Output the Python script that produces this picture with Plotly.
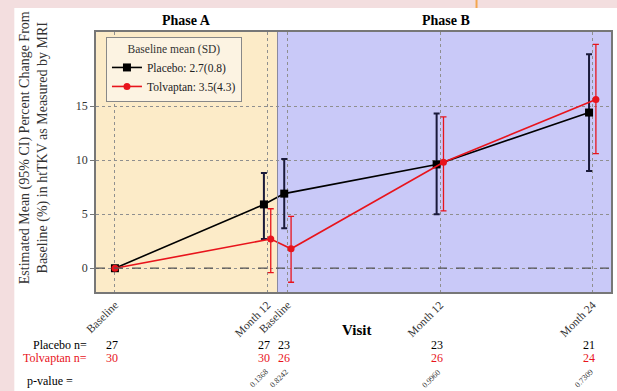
import plotly.graph_objects as go

# ---------------- data ----------------
visit_labels = ["Baseline", "Month 12", "Baseline", "Month 12", "Month 24"]
visit_month = [0, 12, 13.6, 25.6, 37.6]

placebo_mean = [0, 5.9, 6.9, 9.6, 14.4]
placebo_lo = [0, 2.7, 3.7, 5.0, 9.0]
placebo_hi = [0, 8.8, 10.1, 14.3, 19.8]

tolv_mean = [0, 2.7, 1.8, 9.8, 15.6]
tolv_lo = [0, -0.4, -1.3, 5.3, 10.6]
tolv_hi = [0, 5.5, 4.8, 14.0, 20.7]

placebo_n = [27, 27, 23, 23, 21]
tolv_n = [30, 30, 26, 26, 24]
p_values = ["", "0.1368", "0.8242", "0.9960", "0.7309"]

y_ticks = [0, 5, 10, 15]
phase_a_end = 12.8

# ---------------- styling helpers ----------------
FONT = "Liberation Serif, Times New Roman, serif"
RED = "#E8141C"
dodge = [0 if m == 0 else 0.27 for m in visit_month]

W, H = 617, 391
L, R, T, B = 96, 4, 32, 99
PW, PH = W - L - R, H - T - B


def px_x(p):
    return (p - L) / PW


def px_y(p):
    return (H - B - p) / PH


fig = go.Figure()

fig.add_trace(go.Scatter(
    x=[m - d for m, d in zip(visit_month, dodge)], y=placebo_mean,
    mode="lines+markers", name="Placebo: 2.7(0.8)",
    line=dict(color="black", width=1.6),
    marker=dict(symbol="square", size=8, color="black"),
    error_y=dict(type="data", symmetric=False,
                 array=[h - m for h, m in zip(placebo_hi, placebo_mean)],
                 arrayminus=[m - l for l, m in zip(placebo_lo, placebo_mean)],
                 color="#1a1a3a", thickness=2, width=3),
))
fig.add_trace(go.Scatter(
    x=[m + d for m, d in zip(visit_month, dodge)], y=tolv_mean,
    mode="lines+markers", name="Tolvaptan: 3.5(4.3)",
    line=dict(color=RED, width=1.6),
    marker=dict(symbol="circle", size=7, color=RED),
    error_y=dict(type="data", symmetric=False,
                 array=[h - m for h, m in zip(tolv_hi, tolv_mean)],
                 arrayminus=[m - l for l, m in zip(tolv_lo, tolv_mean)],
                 color=RED, thickness=1.3, width=3),
))

x_lo = (L - 115) / 12.75
x_hi = (W - R - 115) / 12.75

shapes = [
    # white panel
    dict(type="rect", xref="paper", yref="paper", x0=px_x(14), x1=px_x(W + 5),
         y0=px_y(H + 5), y1=px_y(8), fillcolor="white", line_width=0, layer="below"),
    # orange marker at top
    dict(type="line", xref="paper", yref="paper", x0=px_x(478), x1=px_x(478),
         y0=px_y(8), y1=px_y(0), line=dict(color="#F3A64E", width=2)),
    # phase fills
    dict(type="rect", xref="x", yref="paper", x0=x_lo, x1=phase_a_end, y0=0, y1=1,
         fillcolor="#FCEBC8", line_width=0, layer="below"),
    dict(type="rect", xref="x", yref="paper", x0=phase_a_end, x1=x_hi, y0=0, y1=1,
         fillcolor="#C9C9F8", line_width=0, layer="below"),
    dict(type="line", xref="x", yref="paper", x0=phase_a_end, x1=phase_a_end, y0=0, y1=1,
         line=dict(color="#8a8aa0", width=1)),
    # zero dashed line
    dict(type="line", xref="paper", yref="y", x0=0, x1=1, y0=0, y1=0,
         line=dict(color="#555555", width=1.3, dash="dash")),
]


def ann(text, x, y, xref="paper", size=12, color="black", xanchor="center", **kw):
    return dict(text=text, x=x, xref=xref, y=y, yref="paper", xanchor=xanchor,
                yanchor=kw.pop("yanchor", "middle"), showarrow=False, borderpad=0,
                font=dict(size=size, family=FONT, color=color), **kw)


annotations = [
    ann("<b>Phase A</b>", (x_lo + phase_a_end) / 2, px_y(21), xref="x", size=14),
    ann("<b>Phase B</b>", px_x(447), px_y(21), size=14),
    ann("Estimated Mean (95% CI) Percent Change From<br>Baseline (%) in htTKV as Measured by MRI",
        px_x(34), px_y(148), size=14, color="#333333", textangle=-90),
    ann("<b>Visit</b>", px_x(358), px_y(330), size=15),
    ann("Placebo n=", px_x(88), px_y(345), size=12, xanchor="right"),
    ann("Tolvaptan n=", px_x(88), px_y(358), size=12, color=RED, xanchor="right"),
    ann("p-value =", px_x(74), px_y(381), size=12, xanchor="right"),
]

for m, pn, tn, pv in zip(visit_month, placebo_n, tolv_n, p_values):
    annotations.append(ann(str(pn), m - 0.25, px_y(345), xref="x", size=12))
    annotations.append(ann(str(tn), m - 0.25, px_y(358), xref="x", size=12, color=RED))
    if pv:
        annotations.append(ann(pv, m + 0.3, px_y(366), xref="x", size=8, color="#333333",
                               xanchor="right", yanchor="top", textangle=-45))

fig.update_layout(
    width=W, height=H,
    margin=dict(l=L, r=R, t=T, b=B),
    paper_bgcolor="#F3DEDF",
    plot_bgcolor="rgba(0,0,0,0)",
    font=dict(family=FONT, size=11, color="#333333"),
    showlegend=True,
    legend=dict(
        title=dict(text="Baseline mean (SD)", side="top center",
                   font=dict(size=11.5, family=FONT, color="#333333")),
        x=px_x(106), y=px_y(37), xanchor="left", yanchor="top",
        bgcolor="#FCF3E2", bordercolor="#888888", borderwidth=1,
        font=dict(size=11.5, family=FONT, color="#222222"),
        itemwidth=30, tracegroupgap=0,
    ),
    shapes=shapes,
    annotations=annotations,
    xaxis=dict(
        range=[x_lo, x_hi], tickmode="array", tickvals=visit_month, ticktext=visit_labels,
        tickangle=-45, showgrid=True, gridcolor="#8f8f8f", griddash="dot", gridwidth=1,
        zeroline=False, showline=True, linecolor="#777777", linewidth=1.5, mirror=True,
        ticks="", tickfont=dict(size=11.5, family=FONT, color="#333333"),
    ),
    yaxis=dict(
        range=[-2.2, 21.85], tickmode="array", tickvals=y_ticks,
        showgrid=True, gridcolor="#8f8f8f", griddash="dot", gridwidth=1,
        zeroline=False, showline=True, linecolor="#777777", linewidth=1.5, mirror=True,
        ticks="outside", ticklen=4, tickcolor="#777777",
        tickfont=dict(size=12, family=FONT, color="#333333"),
    ),
)

fig.write_html("out.html", config={"displayModeBar": False},
               post_script="document.body.style.margin='0';document.body.style.overflow='hidden';")
